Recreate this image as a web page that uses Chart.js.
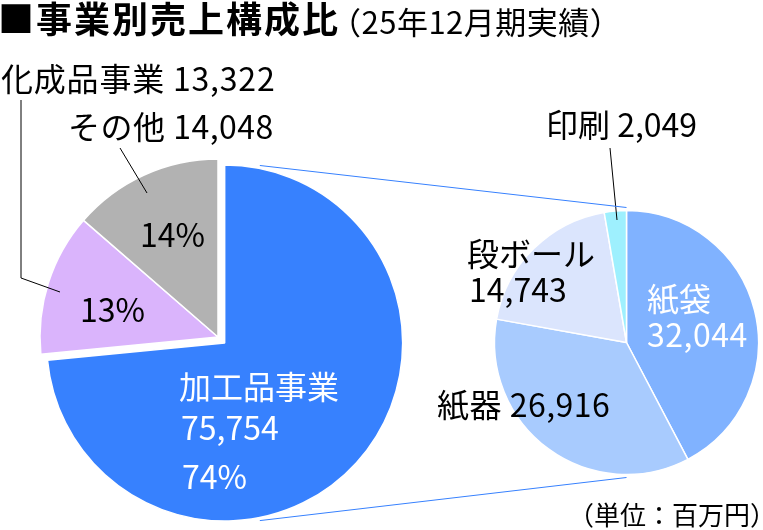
<!DOCTYPE html>
<html lang="ja">
<head>
  <meta charset="UTF-8">
  <title>事業別売上構成比</title>
  <script src="https://cdn.jsdelivr.net/npm/chart.js"></script>
  <style>
    body { margin: 0; background: #fff; }
    #wrap { position: relative; width: 763px; height: 530px; }
    #wrap canvas { position: absolute; left: 0; top: 0; }
  </style>
</head>
<body>
<div id="wrap">
  <canvas id="mainPie" width="763" height="530"></canvas>
  <canvas id="subPie" width="763" height="530"></canvas>
</div>
<script>
  // data (百万円)
  const mainLabels = ['加工品事業', '化成品事業', 'その他'];
  const mainValues = [75754, 13322, 14048];
  const mainPercents = ['74%', '13%', '14%'];
  const mainColors = ['#3781fe', '#dab4fc', '#b2b2b2'];

  const subLabels = ['紙袋', '紙器', '段ボール', '印刷'];
  const subValues = [32044, 26916, 14743, 2049];
  const subColors = ['#80b2ff', '#a8cbfe', '#dbe5fd', '#9ef0fe'];

  const FONT = '"Noto Sans CJK JP", "Noto Sans", sans-serif';
  const explode = 9; // 加工品事業 slice pulled out

  const fmt = v => v.toLocaleString('en-US');

  function put(ctx, text, x, y, size, color, opts) {
    opts = opts || {};
    ctx.save();
    ctx.font = (opts.bold ? 'bold ' : '') + size + 'px ' + FONT;
    ctx.fillStyle = color || '#000';
    ctx.textAlign = opts.align || 'left';
    ctx.textBaseline = 'middle';
    if (opts.spacing) ctx.letterSpacing = opts.spacing + 'px';
    ctx.fillText(text, x, y);
    ctx.restore();
  }

  function leader(ctx, pts, color) {
    ctx.save();
    ctx.strokeStyle = color || '#000';
    ctx.lineWidth = 1;
    ctx.beginPath();
    pts.forEach((p, i) => i ? ctx.lineTo(p[0], p[1]) : ctx.moveTo(p[0], p[1]));
    ctx.stroke();
    ctx.restore();
  }

  const explodePlugin = {
    id: 'explode',
    afterDatasetUpdate(chart) {
      const arc = chart.getDatasetMeta(0).data[0];
      const mid = (arc.startAngle + arc.endAngle) / 2;
      arc.x += Math.cos(mid) * explode;
      arc.y += Math.sin(mid) * explode;
    }
  };

  const mainText = {
    id: 'mainText',
    afterDraw(chart) {
      const ctx = chart.ctx;
      put(ctx, '■事業別売上構成比', -2, 19, 36, '#000', { bold: true, spacing: 2 });
      put(ctx, '（25年12月期実績）', 330, 22, 31, '#000', { spacing: 0.5 });

      put(ctx, mainLabels[1] + ' ' + fmt(mainValues[1]), 1, 79, 32, '#000', { spacing: 0.8 });
      put(ctx, mainLabels[2] + ' ' + fmt(mainValues[2]), 68, 127, 32, '#000', { spacing: 0.5 });
      put(ctx, mainPercents[2], 140, 235, 32);
      put(ctx, mainPercents[1], 80, 310, 32);
      put(ctx, mainLabels[0], 179, 387, 32, '#fff');
      put(ctx, fmt(mainValues[0]), 181, 428, 32, '#fff');
      put(ctx, mainPercents[0], 182, 477, 32, '#fff');

      leader(ctx, [[21, 100], [21, 278], [60, 292]]);
      leader(ctx, [[120, 148], [147, 193]]);
    }
  };

  const subText = {
    id: 'subText',
    afterDraw(chart) {
      const ctx = chart.ctx;
      put(ctx, subLabels[0], 647, 299, 32, '#fff');
      put(ctx, fmt(subValues[0]), 647, 335, 32, '#fff', { spacing: 0.5 });
      put(ctx, subLabels[2], 467, 254, 32);
      put(ctx, fmt(subValues[2]), 469, 290, 32);
      put(ctx, subLabels[1] + ' ' + fmt(subValues[1]), 437, 405, 32, '#000', { spacing: 0.5 });
      put(ctx, subLabels[3] + ' ' + fmt(subValues[3]), 546, 125, 32);
      put(ctx, '（単位：百万円）', 776, 515, 26, '#000', { align: 'right' });
      leader(ctx, [[610, 148], [617, 220]]);

      // connectors from the pulled-out slice to the breakdown pie
      const big = mainChart.getDatasetMeta(0).data[0];
      const sub = chart.getDatasetMeta(0).data[0];
      const R = big.outerRadius + 3;
      const a1 = 11.2 * Math.PI / 180, a2 = 168.8 * Math.PI / 180;
      leader(ctx, [[big.x + R * Math.sin(a1), big.y - R * Math.cos(a1)],
                   [sub.x, sub.y - sub.outerRadius - 3]], '#3781fe');
      leader(ctx, [[big.x + R * Math.sin(a2), big.y - R * Math.cos(a2)],
                   [sub.x, sub.y + sub.outerRadius + 3]], '#3781fe');
    }
  };

  const baseOpts = {
    responsive: false,
    animation: false,
    events: [],
    plugins: { legend: { display: false }, tooltip: { enabled: false } }
  };

  const mainChart = new Chart(document.getElementById('mainPie'), {
    type: 'pie',
    data: {
      labels: mainLabels,
      datasets: [{
        data: mainValues,
        backgroundColor: mainColors,
        borderColor: '#fff',
        borderWidth: 1.5
      }]
    },
    options: Object.assign({}, baseOpts, {
      radius: 178,
      layout: { padding: { left: 0, right: 327, top: 144, bottom: 0 } }
    }),
    plugins: [explodePlugin, mainText]
  });

  const subChart = new Chart(document.getElementById('subPie'), {
    type: 'pie',
    data: {
      labels: subLabels,
      datasets: [{
        data: subValues,
        backgroundColor: subColors,
        borderColor: '#fff',
        borderWidth: 1.5
      }]
    },
    options: Object.assign({}, baseOpts, {
      radius: 132,
      layout: { padding: { left: 490, right: 0, top: 192, bottom: 37 } }
    }),
    plugins: [subText]
  });
</script>
</body>
</html>
